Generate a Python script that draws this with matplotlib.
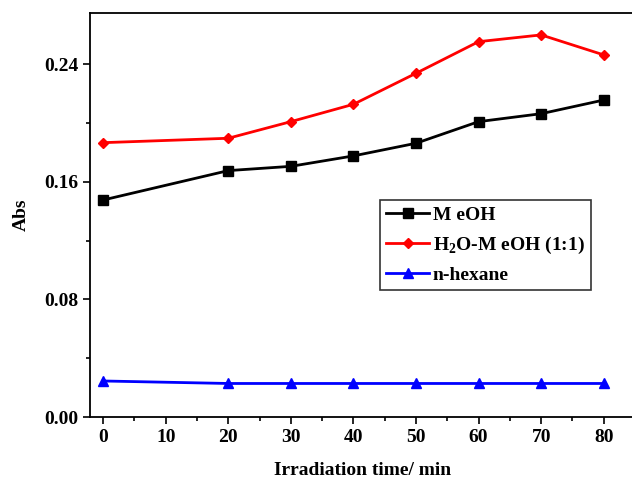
import matplotlib
matplotlib.use('Agg')
import matplotlib.pyplot as plt
from matplotlib.ticker import MultipleLocator

plt.rcParams['font.family'] = ['Liberation Serif', 'DejaVu Serif']
plt.rcParams['font.weight'] = 'bold'
plt.rcParams['mathtext.fontset'] = 'custom'
plt.rcParams['mathtext.rm'] = 'Liberation Serif:bold'

# irradiation time (min)
time = [0, 20, 30, 40, 50, 60, 70, 80]
meoh = [0.1476, 0.1676, 0.1705, 0.1776, 0.1862, 0.2009, 0.2063, 0.2156]
h2o_meoh = [0.1866, 0.1896, 0.2009, 0.2127, 0.2338, 0.2553, 0.2599, 0.2463]
hexane = [0.0245, 0.0228, 0.0228, 0.0228, 0.0228, 0.0228, 0.0228, 0.0228]

fig = plt.figure(figsize=(6.32, 4.83), dpi=100)
ax = fig.add_axes([90 / 632, 1 - 417 / 483, 545 / 632, (417 - 13) / 483])

ax.plot(time, meoh, color='black', marker='s', ms=6.5, lw=2, label='M eOH')
ax.plot(time, h2o_meoh, color='red', marker='D', ms=5.5, lw=2, label='H$_2$O-M eOH (1:1)')
ax.plot(time, hexane, color='blue', marker='^', ms=7.5, lw=2, label='n-hexane')

ax.set_xlim(-2.1, 85)
ax.set_ylim(0, 0.2748)
ax.xaxis.set_major_locator(MultipleLocator(10))
ax.xaxis.set_minor_locator(MultipleLocator(5))
ax.yaxis.set_major_locator(MultipleLocator(0.08))
ax.yaxis.set_minor_locator(MultipleLocator(0.04))
ax.yaxis.set_major_formatter(plt.FormatStrFormatter('%.2f'))
ax.tick_params(which='both', direction='out', labelsize=14, width=1.2)
ax.tick_params(which='major', length=5)
ax.tick_params(which='minor', length=3)
ax.spines['right'].set_visible(False)
for s in ['left', 'bottom', 'top']:
    ax.spines[s].set_linewidth(1.3)

ax.set_xlabel('Irradiation time/ min', fontsize=14, fontweight='bold', labelpad=12)
ax.set_ylabel('Abs', fontsize=14, fontweight='bold', labelpad=10)

leg = ax.legend(loc='upper left', bbox_to_anchor=(0.515, 0.56), fontsize=14,
                frameon=True, fancybox=False, edgecolor='black', handlelength=2.2,
                handletextpad=0.2, borderpad=0.3, labelspacing=0.55)
leg.get_frame().set_linewidth(1.2)

fig.savefig('out.png', dpi=100)
